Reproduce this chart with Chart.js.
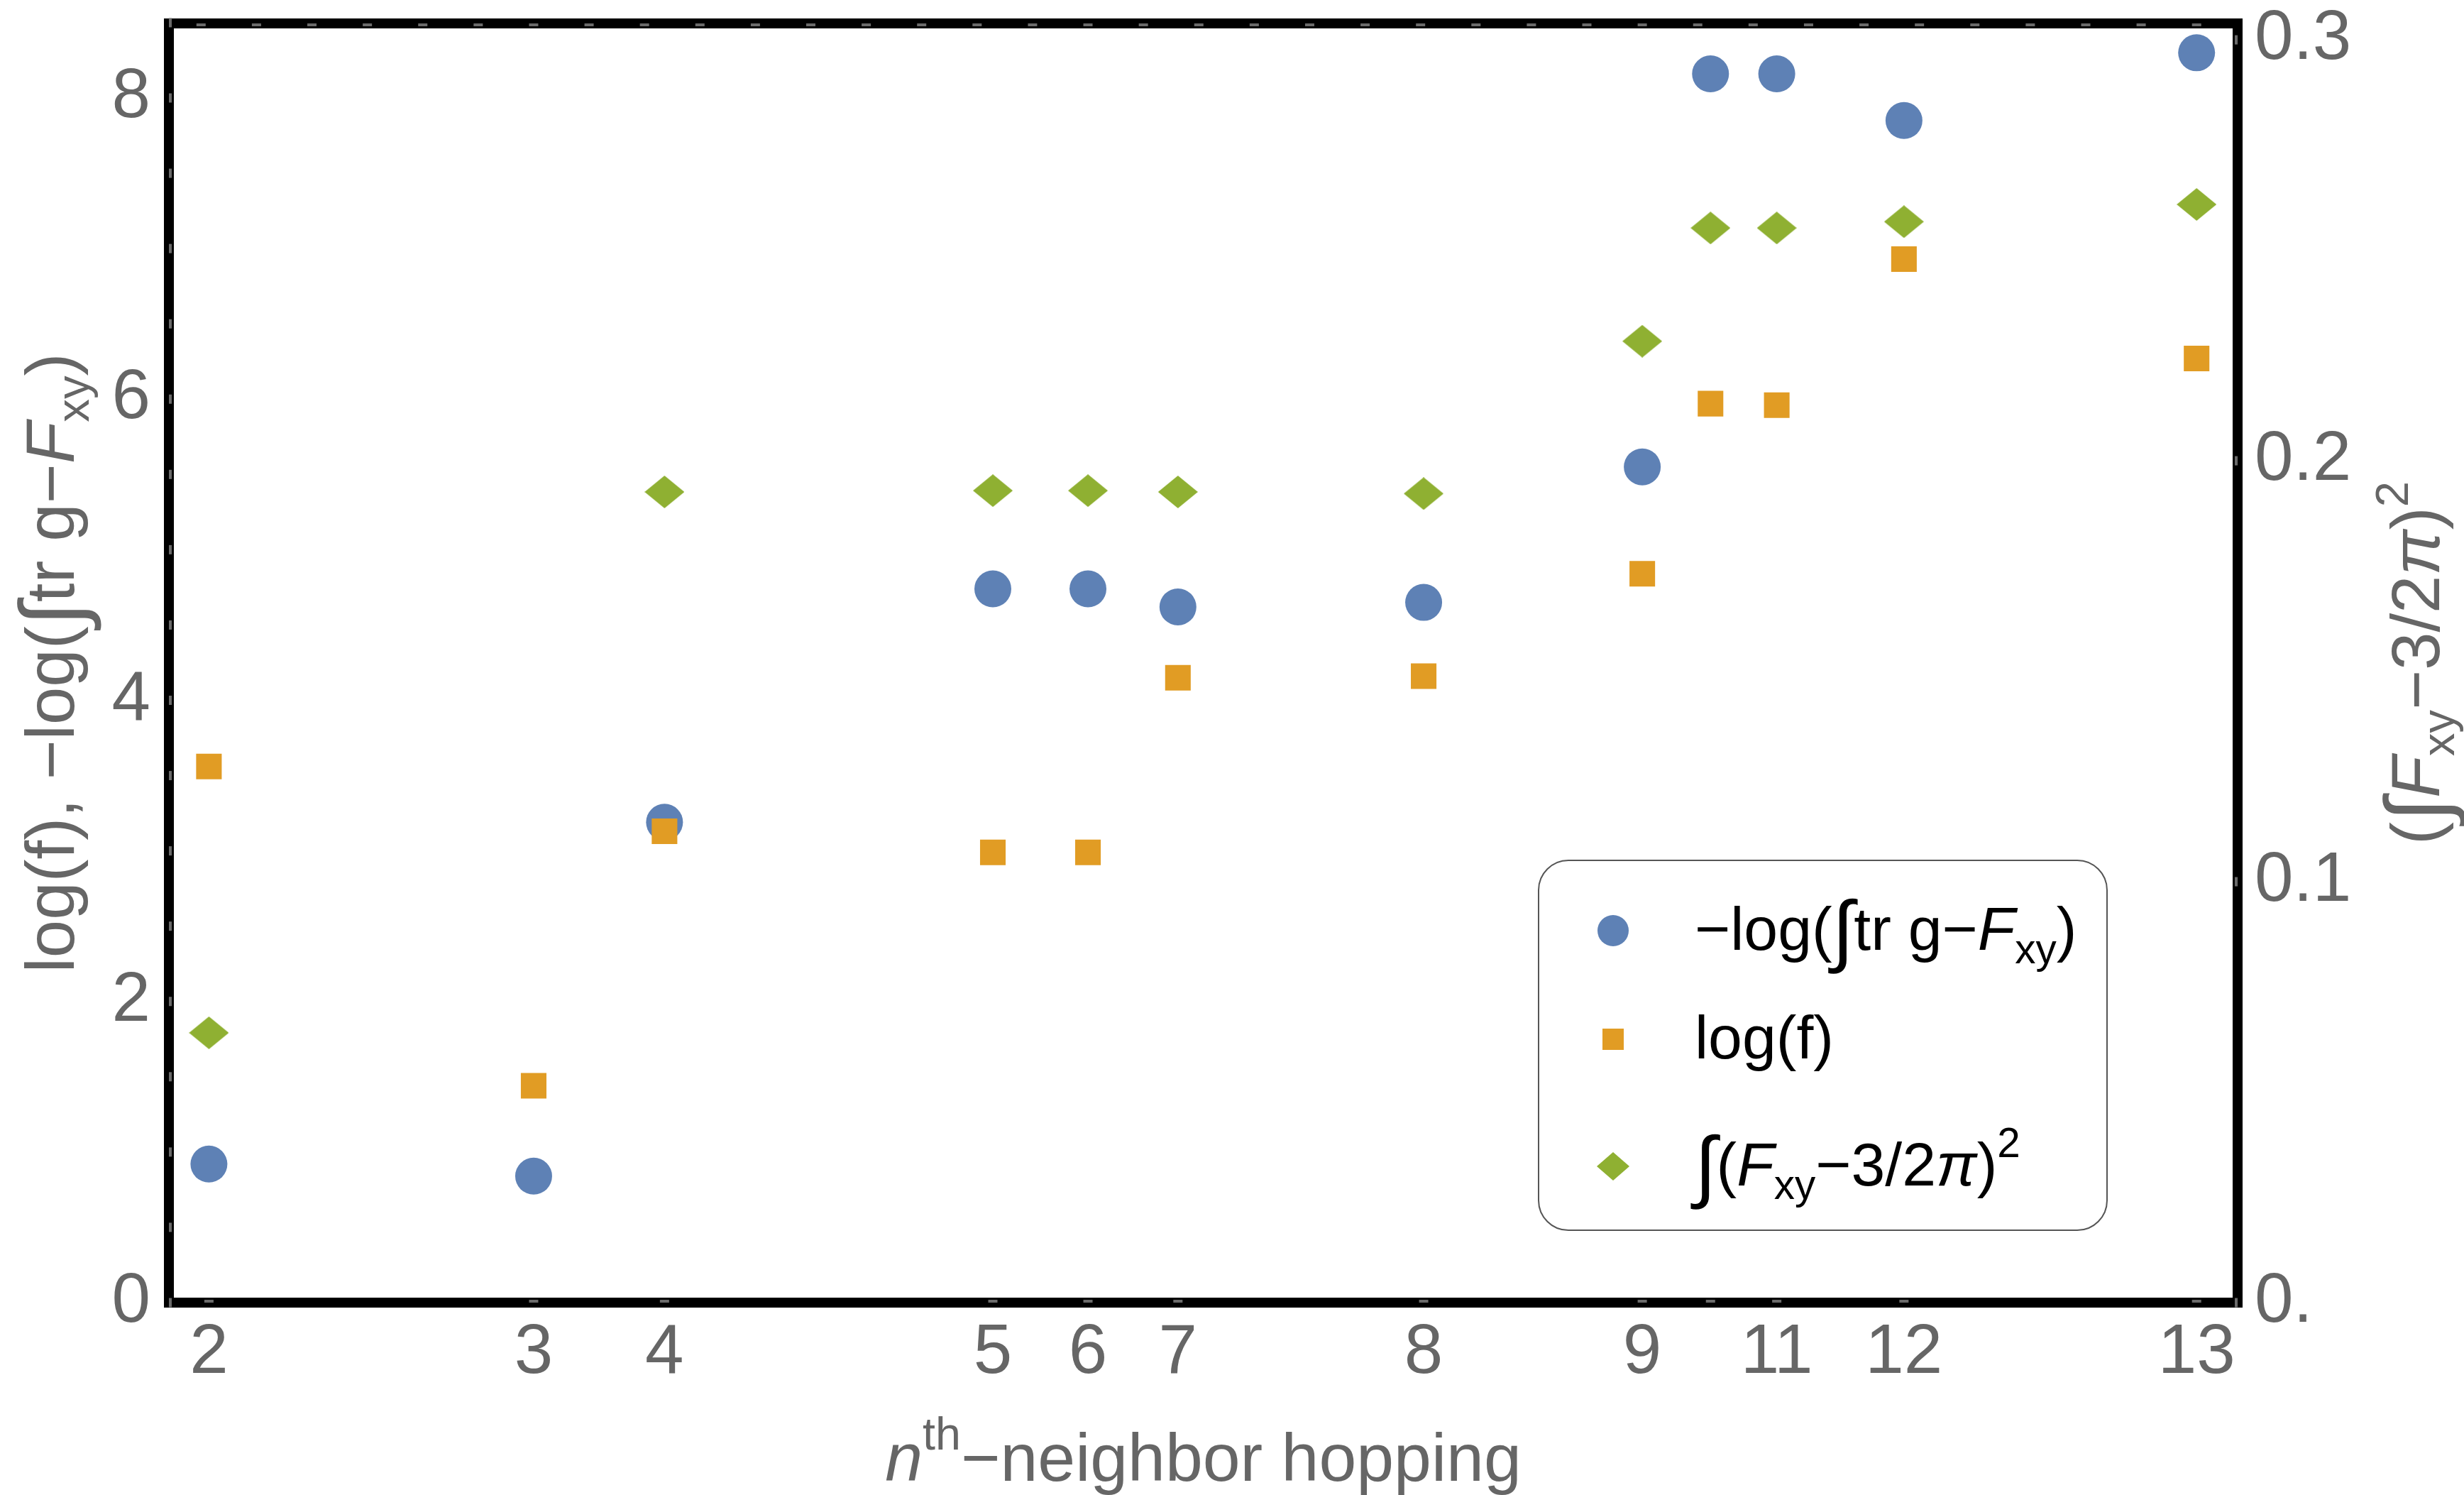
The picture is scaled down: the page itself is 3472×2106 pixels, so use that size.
<!DOCTYPE html>
<html>
<head>
<meta charset="utf-8">
<script src="https://cdn.jsdelivr.net/npm/chart.js@4.4.0/dist/chart.umd.min.js"></script>
<style>
  html, body { margin: 0; padding: 0; background: #fff; }
</style>
</head>
<body>
<canvas id="hopChart" width="3472" height="2106"></canvas>
<script>
// ─── Data ──────────────────────────────────────────────────
// x position is the hopping distance |r_n| on the square lattice,
// tick label is the neighbour index n ("10" is left unlabeled in the original)
const hopLabels   = ['2', '3', '4', '5', '6', '7', '8', '9', '', '11', '12', '13'];
const hopDistance = [1.4142, 2.0, 2.2361, 2.8284, 3.0, 3.1623, 3.6056, 4.0, 4.1231, 4.2426, 4.4721, 5.0];

// left axis
const negLogTrG = [0.92, 0.84, 3.19, 4.74, 4.74, 4.62, 4.65, 5.55, 8.16, 8.16, 7.85, 8.30];
const logF      = [3.56, 1.44, 3.13, 2.99, 2.99, 4.15, 4.16, 4.84, 5.97, 5.96, 6.93, 6.27];
// right axis
const fxyDev    = [0.0641, null, 0.1926, 0.1929, 0.1929, 0.1926, 0.1922, 0.2284, 0.2553, 0.2553, 0.2568, 0.2609];

const leftTicks       = [0, 2, 4, 6, 8];
const rightTicks      = [0, 0.1, 0.2, 0.3];
const rightTickLabels = ['0.', '0.1', '0.2', '0.3'];

// ─── Styling ───────────────────────────────────────────────
const BLUE = '#5E81B5', ORANGE = '#E19C24', GREEN = '#8FB032';
const GREY = '#666666';
const FAMILY = "'Liberation Sans', Arial, 'DejaVu Sans', sans-serif";

function makeDiamond(w, h, color) {
    const c = document.createElement('canvas');
    c.width = w; c.height = h;
    const g = c.getContext('2d');
    g.fillStyle = color;
    g.beginPath();
    g.moveTo(w / 2, 0); g.lineTo(w, h / 2); g.lineTo(w / 2, h); g.lineTo(0, h / 2);
    g.closePath(); g.fill();
    return c;
}

const toPoints = (ys) => hopDistance.map((x, i) => ({ x, y: ys[i] })).filter(p => p.y !== null);

// scales must not reserve room for label overflow, the frame sits at fixed pixels
const noOverflow = s => { s.paddingTop = 0; s.paddingBottom = 0; s.paddingLeft = 0; s.paddingRight = 0; };

// ─── Rich text (italics, sub/superscripts) ─────────────────
function fontStr(italic, size) {
    return (italic ? 'italic ' : '') + size + 'px ' + FAMILY;
}
function drawRich(ctx, runs, x, y, size, color, align) {
    const parts = runs.map(([t, st]) => {
        let s = size;
        if (st === 'sub' || st === 'sup') s = size * 0.68;
        if (st === 'int') s = size * 1.3;
        ctx.font = fontStr(st === 'i', s);
        return { t, st, s, w: ctx.measureText(t).width };
    });
    const total = parts.reduce((a, p) => a + p.w, 0);
    let cx = align === 'center' ? x - total / 2 : x;
    ctx.fillStyle = color;
    ctx.textBaseline = 'alphabetic';
    ctx.textAlign = 'left';
    parts.forEach(p => {
        ctx.font = fontStr(p.st === 'i', p.s);
        let dy = 0;
        if (p.st === 'sub') dy = size * 0.22;
        if (p.st === 'sup') dy = -size * 0.46;
        if (p.st === 'int') dy = size * 0.12;
        ctx.fillText(p.t, cx, y + dy);
        cx += p.w;
    });
}

const LEFT_TITLE  = [['log(f), \u2212log(', ''], ['\u222B', 'int'], ['tr g\u2212', ''], ['F', 'i'], ['xy', 'sub'], [')', '']];
const RIGHT_TITLE = [['(', ''], ['\u222B', 'int'], ['F', 'i'], ['xy', 'sub'], ['\u22123/2', ''], ['\u03C0', 'i'], [')', ''], ['2', 'sup']];
const X_TITLE     = [['n', 'i'], ['th', 'sup'], ['\u2212neighbor hopping', '']];

const LEGEND_ROWS = [
    { shape: 'circle',  color: BLUE,   y: 1311, runs: [['\u2212log(', ''], ['\u222B', 'int'], ['tr g\u2212', ''], ['F', 'i'], ['xy', 'sub'], [')', '']] },
    { shape: 'square',  color: ORANGE, y: 1464, runs: [['log(f)', '']] },
    { shape: 'diamond', color: GREEN,  y: 1643, runs: [['\u222B', 'int'], ['(', ''], ['F', 'i'], ['xy', 'sub'], ['\u22123/2', ''], ['\u03C0', 'i'], [')', ''], ['2', 'sup']] }
];

// ─── Frame, tick marks, titles and legend ──────────────────
const framePlugin = {
    id: 'mmaFrame',
    afterDraw(chart) {
        const { ctx, chartArea: a, scales } = chart;
        ctx.save();

        // thick black frame
        ctx.strokeStyle = '#000';
        ctx.lineWidth = 14;
        ctx.strokeRect(a.left, a.top, a.right - a.left, a.bottom - a.top);

        // little grey tick marks sitting on the frame
        ctx.fillStyle = '#6b6b6b';
        for (let v = 0; v <= 8.5001; v += 0.5) {
            const y = scales.y.getPixelForValue(v);
            ctx.fillRect(a.left, y - 6.5, 4, 13);
        }
        rightTicks.forEach(v => {
            const y = scales.y2.getPixelForValue(v);
            ctx.fillRect(a.right - 4, y - 6.5, 4, 13);
        });
        hopDistance.forEach(v => {
            const x = scales.x.getPixelForValue(v);
            ctx.fillRect(x - 6.5, a.bottom - 4, 13, 4);
        });
        for (let k = 14; k <= 50; k++) {
            const x = scales.x.getPixelForValue(k / 10);
            ctx.fillRect(x - 6.5, a.top, 13, 4);
        }

        // axis titles
        const midY = (a.top + a.bottom) / 2;
        drawRich(ctx, X_TITLE, (a.left + a.right) / 2, 2086, 95, GREY, 'center');

        ctx.save();
        ctx.translate(104, midY);
        ctx.rotate(-Math.PI / 2);
        drawRich(ctx, LEFT_TITLE, 0, 0, 96, GREY, 'center');
        ctx.restore();

        ctx.save();
        ctx.translate(3437, midY);
        ctx.rotate(-Math.PI / 2);
        drawRich(ctx, RIGHT_TITLE, 0, 0, 96, GREY, 'center');
        ctx.restore();

        // legend box
        const L = 2168, T = 1212, R = 2969, B = 1733, rad = 42;
        ctx.beginPath();
        ctx.roundRect(L, T, R - L, B - T, rad);
        ctx.fillStyle = '#fff';
        ctx.fill();
        ctx.lineWidth = 2;
        ctx.strokeStyle = '#555';
        ctx.stroke();

        LEGEND_ROWS.forEach(row => {
            const mx = 2273, my = row.y;
            ctx.fillStyle = row.color;
            ctx.beginPath();
            if (row.shape === 'circle') {
                ctx.arc(mx, my, 22, 0, Math.PI * 2);
            } else if (row.shape === 'square') {
                ctx.rect(mx - 15, my - 15, 30, 30);
            } else {
                ctx.moveTo(mx, my - 20); ctx.lineTo(mx + 23, my);
                ctx.lineTo(mx, my + 20); ctx.lineTo(mx - 23, my);
                ctx.closePath();
            }
            ctx.fill();
            drawRich(ctx, row.runs, 2388, my + 27, 86, '#000', 'left');
        });

        ctx.restore();
    }
};

// ─── Chart ─────────────────────────────────────────────────
const tickFont = { family: FAMILY, size: 98 };

new Chart(document.getElementById('hopChart'), {
    type: 'scatter',
    data: {
        datasets: [
            {
                label: '-log(\u222Btr g-Fxy)',
                data: toPoints(negLogTrG),
                yAxisID: 'y',
                pointStyle: 'circle',
                pointRadius: 26,
                backgroundColor: BLUE,
                borderWidth: 0,
                order: 3,
                clip: false
            },
            {
                label: 'log(f)',
                data: toPoints(logF),
                yAxisID: 'y',
                pointStyle: 'rect',
                pointRadius: 25.5,
                backgroundColor: ORANGE,
                borderWidth: 0,
                order: 2,
                clip: false
            },
            {
                label: '\u222B(Fxy-3/2\u03C0)^2',
                data: toPoints(fxyDev),
                yAxisID: 'y2',
                pointStyle: makeDiamond(56, 46, GREEN),
                pointRadius: 26,
                backgroundColor: GREEN,
                borderWidth: 0,
                order: 1,
                clip: false
            }
        ]
    },
    options: {
        responsive: false,
        animation: false,
        layout: { autoPadding: false, padding: { top: 33, left: 0, right: 0, bottom: 0 } },
        plugins: {
            legend: { display: false },
            tooltip: { enabled: false }
        },
        scales: {
            x: {
                type: 'linear',
                position: 'bottom',
                min: 1.342,
                max: 5.074,
                afterBuildTicks: s => { s.ticks = hopDistance.map(v => ({ value: v })); },
                afterFit: s => { s.height = 271; noOverflow(s); },
                ticks: {
                    autoSkip: false, maxRotation: 0, padding: 13,
                    color: GREY, font: tickFont,
                    callback: (v, i) => hopLabels[i]
                },
                grid: { display: false, drawTicks: false },
                border: { display: false }
            },
            y: {
                type: 'linear',
                position: 'left',
                min: 0,
                max: 8.495,
                afterBuildTicks: s => { s.ticks = leftTicks.map(v => ({ value: v })); },
                afterFit: s => { s.width = 238; noOverflow(s); },
                ticks: { padding: 26, color: GREY, font: tickFont, callback: v => String(v) },
                grid: { display: false, drawTicks: false },
                border: { display: false }
            },
            y2: {
                type: 'linear',
                position: 'right',
                min: 0,
                max: 0.3039,
                afterBuildTicks: s => { s.ticks = rightTicks.map(v => ({ value: v })); },
                afterFit: s => { s.width = 319; noOverflow(s); },
                ticks: { padding: 24, color: GREY, font: tickFont, callback: (v, i) => rightTickLabels[i] },
                grid: { display: false, drawTicks: false },
                border: { display: false }
            }
        }
    },
    plugins: [framePlugin]
});
</script>
</body>
</html>
